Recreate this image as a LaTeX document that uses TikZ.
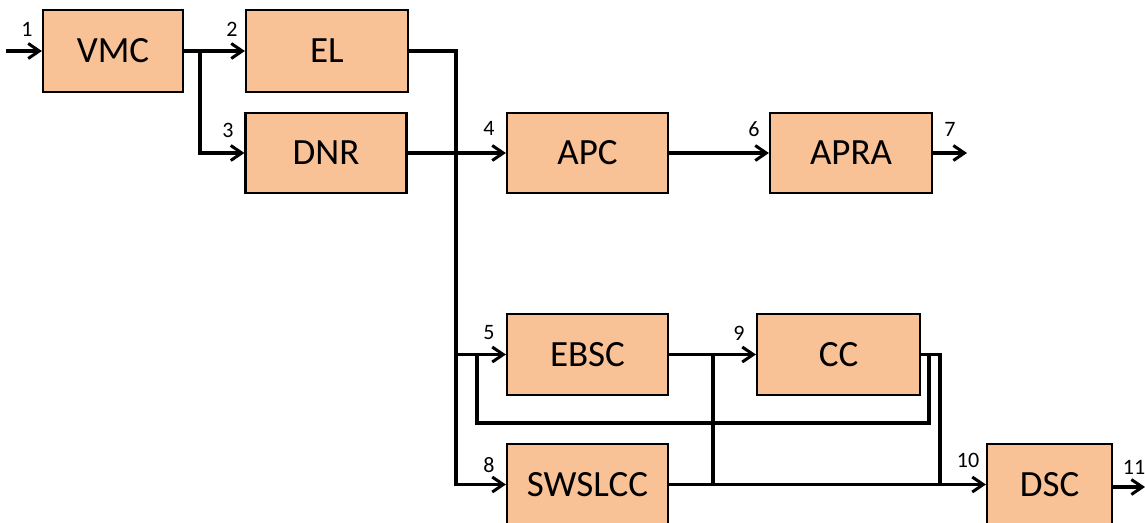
\documentclass[tikz,border=0pt]{standalone}
\usepackage{fontspec}
\setmainfont{Carlito}
\usetikzlibrary{arrows.meta}
\definecolor{boxfill}{RGB}{249,193,150}
\tikzset{
  blk/.style={draw=black, line width=2.2pt, fill=boxfill, inner sep=0pt,
              font=\fontsize{37}{37}\selectfont},
  wire/.style={line width=3.2pt, line cap=rect},
  flow/.style={wire, -{Straight Barb[length=11pt,width=15pt,line width=3pt]}},
  num/.style={font=\fontsize{22}{22}\selectfont, inner sep=0pt}
}
\begin{document}
\begin{tikzpicture}[x=1pt,y=-1pt]
\useasboundingbox (0,0) rectangle (1145,522);

% blocks
\node[blk, minimum width=140pt, minimum height=82pt] (vmc)  at (113,51)    {VMC};
\node[blk, minimum width=162pt, minimum height=82pt] (el)   at (327,51)    {EL};
\node[blk, minimum width=161pt, minimum height=80pt] (dnr)  at (326,153)   {DNR};
\node[blk, minimum width=161pt, minimum height=80pt] (apc)  at (587.5,153) {APC};
\node[blk, minimum width=162pt, minimum height=80pt] (apra) at (851,153)   {APRA};
\node[blk, minimum width=161pt, minimum height=81pt] (ebsc) at (587.5,354.5) {EBSC};
\node[blk, minimum width=163pt, minimum height=81pt] (cc)   at (838.5,354.5) {CC};
\node[blk, minimum width=161pt, minimum height=81pt] (sws)  at (587.5,484.5) {SWSLCC};
\node[blk, minimum width=125pt, minimum height=81pt] (dsc)  at (1049.5,484.5) {DSC};

% free ends and junctions
\coordinate (in)    at (8,51);
\coordinate (out7)  at (967,153);
\coordinate (out11) at (1145,487);
\coordinate (j1)    at (200,51);
\coordinate (bus)   at (456,51);
\coordinate (j9)    at (713,484.5);
\coordinate (ccout) at (940,354.5);
\coordinate (fb)    at (929,354.5);

% connectors
\draw[flow] (in) -- (vmc.west);
\draw[flow] (vmc.east) -- (el.west);
\draw[flow] (j1) |- (dnr.west);
\draw[wire] (el.east) -- (bus) -- (bus |- sws.west);
\draw[flow] (bus |- sws.west) -- (sws.west);
\draw[flow] (bus |- ebsc.west) -- (ebsc.west);
\draw[flow] (dnr.east) -- (apc.west);
\draw[flow] (apc.east) -- (apra.west);
\draw[flow] (apra.east) -- (out7);
\draw[flow] (ebsc.east) -- (cc.west);
\draw[flow] (sws.east) -- (dsc.west);
\draw[wire] (j9) -- (j9 |- cc.west);
\draw[wire] (cc.east) -- (ccout) -- (ccout |- dsc.west);
\draw[wire] (fb) -- (929,423) -- (477,423) -- (477,354.5);
\draw[flow] (dsc.east |- out11) -- (out11);

% signal numbers
\node[num] (n1)  at (27,29)   {1};
\node[num] (n2)  at (232,29)  {2};
\node[num] (n3)  at (228,130) {3};
\node[num] (n4)  at (489,128) {4};
\node[num] (n5)  at (489,333) {5};
\node[num] (n6)  at (754,129) {6};
\node[num] (n7)  at (950,129) {7};
\node[num] (n8)  at (489,465) {8};
\node[num] (n9)  at (739,333) {9};
\node[num] (n10) at (968,460) {10};
\node[num] (n11) at (1134,467) {11};
\end{tikzpicture}
\end{document}
